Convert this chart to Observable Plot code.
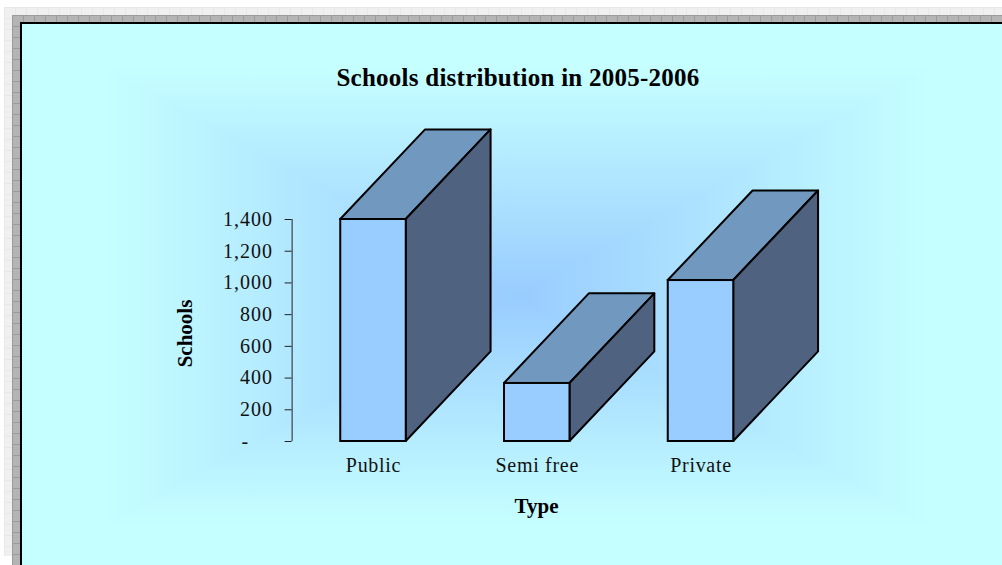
<!DOCTYPE html>
<html><head><meta charset="utf-8">
<script src="https://cdn.jsdelivr.net/npm/d3@7"></script>
<script src="https://cdn.jsdelivr.net/npm/@observablehq/plot@0.6"></script>
<style>
html,body{margin:0;padding:0;width:1002px;height:565px;overflow:hidden;background:#fff}
#outer{position:absolute;left:4px;top:7px;width:998px;height:549px;background-color:#f0f0f0;
 background-image:repeating-linear-gradient(to right,#e8e8e8 0 1px,transparent 1px 11px),repeating-linear-gradient(to bottom,#e8e8e8 0 1px,transparent 1px 11px)}
#inner{position:absolute;left:12px;top:15px;width:990px;height:550px;background-color:#b4b4b4;
 background-image:repeating-linear-gradient(to right,#9c9c9c 0 1px,transparent 1px 11px),repeating-linear-gradient(to bottom,#9c9c9c 0 1px,transparent 1px 11px)}
#panel{position:absolute;left:20px;top:22px;width:982px;height:543px;box-sizing:border-box;border-left:2px solid #000;border-top:2px solid #000;background:#c6ffff}
#glow{position:absolute;left:105px;top:68px;width:824px;height:456px;
 background:linear-gradient(to right,#c6ffff,#99ccff 50%,#c6ffff),linear-gradient(to bottom,#c6ffff,#99ccff 50%,#c6ffff);background-blend-mode:lighten}
#chart{position:absolute;left:0;top:0}
#chart svg{background:transparent!important}
#chart g[aria-label="y-axis tick label"] text{letter-spacing:1px}
#chart .cat text{letter-spacing:.7px}
#chart .ttl text{letter-spacing:.25px}
</style></head><body>
<div id="outer"></div><div id="inner"></div><div id="panel"></div><div id="glow"></div>
<div id="chart"></div>
<script>
const categories = ["Public", "Semi free", "Private"];
const schools = [1400, 366, 1015];
const yTicks = [0, 200, 400, 600, 800, 1000, 1200, 1400];
const chartTitle = "Schools distribution in 2005-2006";
const yTitle = "Schools";
const xTitle = "Type";

const halfWidth = 0.2, depthX = 0.518, depthY = 565;
const rows = categories.map((name, i) => ({name, i, value: schools[i]}));
const font = "'Liberation Serif','Times New Roman',serif";
const ink = "#000";

// top and side faces are drawn as parallelograms through the scales
const topFace = rows.flatMap(d => [
  {k: d.name, y: d.value, x1: d.i - halfWidth, x2: d.i + halfWidth},
  {k: d.name, y: d.value + depthY, x1: d.i - halfWidth + depthX, x2: d.i + halfWidth + depthX}
]);
const sideFace = rows.flatMap(d => [
  {k: d.name, x: d.i + halfWidth, y1: 0, y2: d.value},
  {k: d.name, x: d.i + halfWidth + depthX, y1: depthY, y2: d.value + depthY}
]);

const plot = Plot.plot({
  width: 1002, height: 565,
  marginLeft: 0, marginRight: 0, marginTop: 0, marginBottom: 0,
  style: {fontFamily: font, background: "transparent", overflow: "visible"},
  x: {type: "linear", domain: [0, 2], range: [373, 700.5], axis: null},
  y: {type: "linear", domain: [0, 1400], range: [441, 219]},
  marks: [
    Plot.areaX(topFace, {z: "k", y: "y", x1: "x1", x2: "x2", fill: "#7198bf", stroke: ink, strokeWidth: 2}),
    Plot.areaY(sideFace, {z: "k", x: "x", y1: "y1", y2: "y2", fill: "#4f6380", stroke: ink, strokeWidth: 2}),
    Plot.rect(rows, {x1: d => d.i - halfWidth, x2: d => d.i + halfWidth, y1: 0, y2: "value", fill: "#99ccff", stroke: ink, strokeWidth: 2}),
    Plot.ruleX([-0.497], {y1: 0, y2: 1400, stroke: "#222", strokeWidth: 1}),
    Plot.axisY({ticks: yTicks, anchor: "left", x: -0.497, tickSize: 7, tickPadding: 12, label: null, fontSize: 20, stroke: "#222", fill: "#111", tickFormat: d => d === 0 ? "-\u00a0\u00a0\u00a0\u00a0" : d3.format(",")(d)}),
    Plot.text(rows, {x: "i", y: 0, dy: 24, text: "name", fontSize: 20, fill: "#111", lineAnchor: "middle", className: "cat"}),
    Plot.text([chartTitle], {frameAnchor: "top-left", dx: 517.5, dy: 77, fontSize: 25, fontWeight: "bold", fill: ink, textAnchor: "middle", lineAnchor: "middle", className: "ttl"}),
    Plot.text([xTitle], {frameAnchor: "top-left", dx: 536, dy: 506, fontSize: 21, fontWeight: "bold", fill: ink, textAnchor: "middle", lineAnchor: "middle"}),
    Plot.text([yTitle], {frameAnchor: "top-left", dx: 185, dy: 333, rotate: -90, fontSize: 21, fontWeight: "bold", fill: ink, textAnchor: "middle", lineAnchor: "middle"})
  ]
});
document.getElementById("chart").appendChild(plot);
</script></body></html>
